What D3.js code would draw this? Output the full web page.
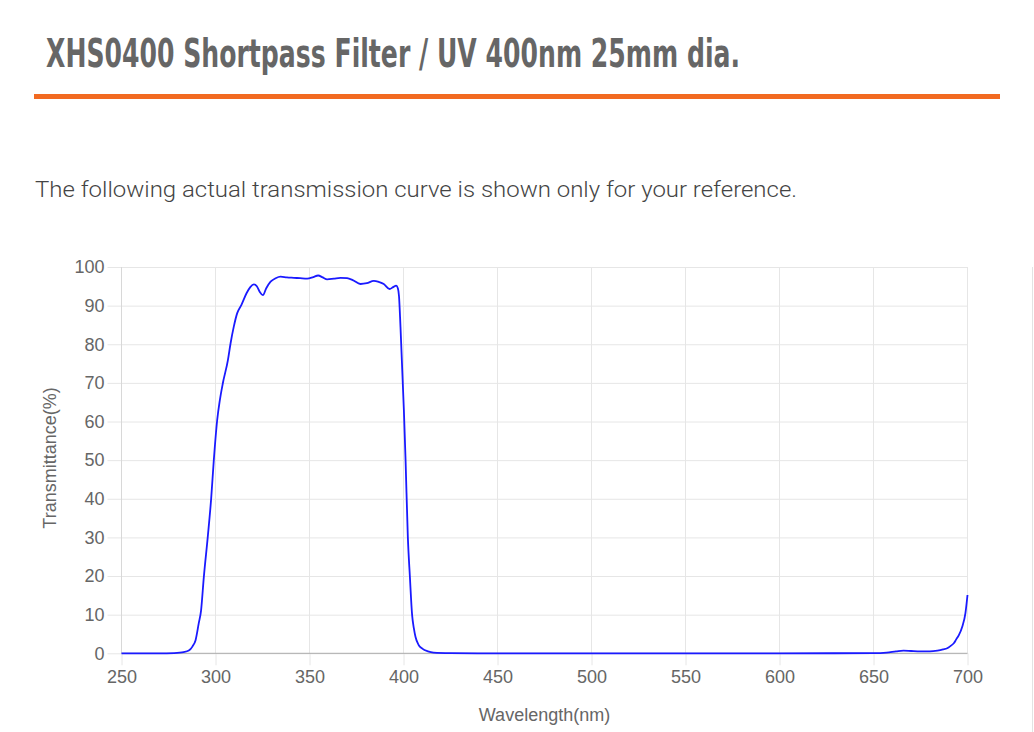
<!DOCTYPE html>
<html><head><meta charset="utf-8">
<script src="https://cdn.jsdelivr.net/npm/d3@7"></script>
<style>
html,body{margin:0;padding:0;background:#fff;}
svg{display:block;}
</style></head>
<body>
<svg id="chart" width="1034" height="732"></svg>
<script>
const titleText = "XHS0400 Shortpass Filter / UV 400nm 25mm dia.";
const subtitleText = "The following actual transmission curve is shown only for your reference.";
const xLabel = "Wavelength(nm)";
const yLabel = "Transmittance(%)";
const xTicks = [250,300,350,400,450,500,550,600,650,700];
const yTicks = [0,10,20,30,40,50,60,70,80,90,100];

const wavelength = [250,260,270,278,281,283,285.8,287.8,289.4,291.1,292.3,293.8,295.9,297.7,299.1,300.9,302.3,303.9,306.6,308,309.7,311.5,313.8,316.5,318.5,320.4,322,323.5,325.2,327,329.3,332,334.6,338,341.7,345,348.8,352,354.6,357,359.4,363,366.5,370,373,377.1,380.5,384.2,387,389.5,392.6,394.5,396.1,397,397.6,398.4,400.2,401.1,402.3,403.4,404.6,405.5,406.4,408,410,413,416,425,440,500,537,550,600,650,657,662,666,670,675,680,684,687,689.2,691,692.7,694,695.4,697.2,698.9,700];
const transmittance = [0,0,0,0.05,0.15,0.3,0.7,1.8,3.4,7.8,11,19.8,30.2,40.1,50,60.4,65.5,69.9,75.9,80.2,84.5,88,90.2,93.2,94.8,95.5,95,93.6,92.7,94.5,96.2,97.1,97.5,97.3,97.2,97.1,97,97.4,97.8,97.3,96.8,97,97.2,97.1,96.6,95.6,95.8,96.4,96.1,95.6,94.3,94.8,95.2,94.5,92.5,84.5,63,50,30.2,19.8,9.8,6.5,4.2,2.2,1.2,0.5,0.2,0.05,0,0,0,0,0,0.05,0.2,0.5,0.7,0.6,0.5,0.5,0.7,1,1.3,1.9,2.6,3.6,4.7,6.9,10.4,15.1];

(function(){
const svg = d3.select("#chart");

svg.append("text").attr("x",46).attr("y",67)
  .attr("font-family","'DejaVu Sans Condensed','DejaVu Sans',sans-serif")
  .attr("font-weight","bold").attr("font-size",39)
  .attr("fill","#666")
  .attr("textLength",694).attr("lengthAdjust","spacingAndGlyphs")
  .text(titleText);

svg.append("rect").attr("x",34).attr("y",94).attr("width",966).attr("height",5).attr("fill","#f26a21");

svg.append("text").attr("x",35).attr("y",197)
  .attr("font-family","Roboto,sans-serif").attr("font-weight",300).attr("font-size",22)
  .attr("fill","#444")
  .attr("textLength",762).attr("lengthAdjust","spacingAndGlyphs")
  .text(subtitleText);

svg.append("line").attr("x1",1032.5).attr("x2",1032.5).attr("y1",267).attr("y2",732).attr("stroke","#e3e3e3");

const pL=121.5, pR=967.5, pT=267, pB=653.3;
const x = d3.scaleLinear().domain([250,700]).range([pL,pR]);
const y = d3.scaleLinear().domain([0,100]).range([pB,pT]);

const g = svg.append("g");
const tickFont = "Arial,'Liberation Sans',sans-serif";

const yAxis = g.append("g").attr("transform",`translate(${pL},0)`)
  .call(d3.axisLeft(y).tickValues(yTicks).tickSize(14).tickPadding(3).tickSizeOuter(0));
yAxis.select(".domain").remove();
yAxis.selectAll(".tick line").attr("stroke","#e6e6e6");
yAxis.selectAll(".tick text").attr("font-family",tickFont).attr("font-size",18).attr("fill","#666");
g.append("g").selectAll("line").data(yTicks).join("line")
  .attr("x1",pL).attr("x2",pR).attr("y1",d=>y(d)+0.5).attr("y2",d=>y(d)+0.5)
  .attr("stroke","#e6e6e6");

const xAxis = g.append("g").attr("transform",`translate(0,${pB})`)
  .call(d3.axisBottom(x).tickValues(xTicks).tickSize(12).tickPadding(5).tickSizeOuter(0));
xAxis.select(".domain").remove();
xAxis.selectAll(".tick line").attr("stroke","#e6e6e6");
xAxis.selectAll(".tick text").attr("font-family",tickFont).attr("font-size",18).attr("fill","#666");
g.append("g").selectAll("line").data(xTicks).join("line")
  .attr("x1",d=>x(d)).attr("x2",d=>x(d)).attr("y1",pT).attr("y2",pB)
  .attr("stroke",(d,i)=> i===0 ? "#d8d8d8" : "#e6e6e6");

g.append("line").attr("x1",pL).attr("x2",pR).attr("y1",pB).attr("y2",pB).attr("stroke","#aaa");

const pts = wavelength.map((w,i)=>[w,transmittance[i]]);
g.append("path").datum(pts)
  .attr("fill","none").attr("stroke","#1a1aff").attr("stroke-width",1.8)
  .attr("d",d3.line().x(d=>x(d[0])).y(d=>y(d[1])).curve(d3.curveMonotoneX));

svg.append("text").attr("x",(pL+pR)/2).attr("y",721).attr("text-anchor","middle")
  .attr("font-family",tickFont).attr("font-size",18).attr("fill","#666").text(xLabel);
svg.append("text").attr("transform","translate(56,458) rotate(-90)").attr("text-anchor","middle")
  .attr("font-family",tickFont).attr("font-size",18).attr("fill","#666").text(yLabel);
})();
</script>
</body></html>
